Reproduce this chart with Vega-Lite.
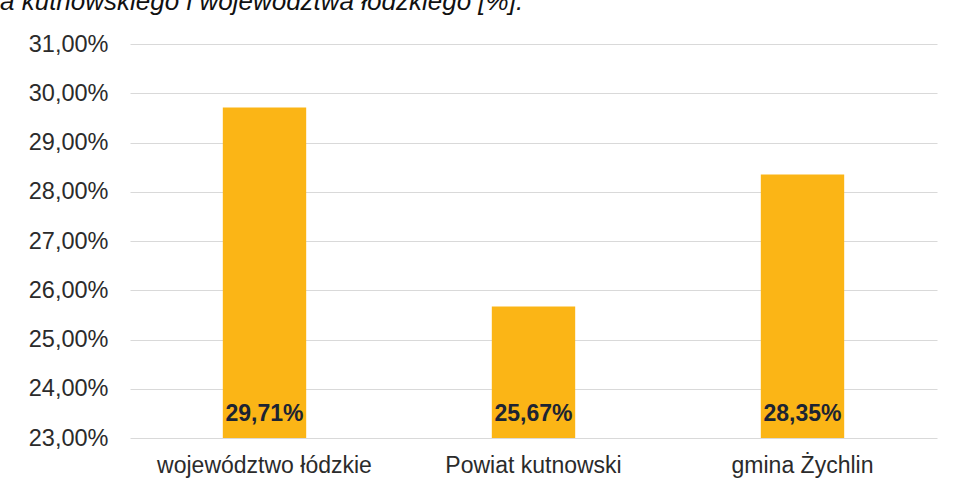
{
  "$schema": "https://vega.github.io/schema/vega-lite/v6.json",
  "width": 807,
  "height": 394,
  "autosize": "none",
  "padding": {"left": 130, "top": 44, "right": 16, "bottom": 50},
  "background": "white",
  "config": {
    "locale": {"number": {"decimal": ",", "thousands": " ", "grouping": [3], "currency": ["", " zł"]}},
    "view": {"stroke": null},
    "font": "Liberation Sans"
  },
  "title": {
    "text": "a kutnowskiego i województwa łódzkiego [%].",
    "anchor": "start",
    "frame": "group",
    "orient": "top",
    "baseline": "alphabetic",
    "offset": -4,
    "dx": -130,
    "font": "Liberation Sans",
    "fontSize": 26,
    "fontStyle": "italic",
    "fontWeight": "normal",
    "color": "#111111"
  },
  "data": {
    "values": [
      {"obszar": "województwo łódzkie", "wartosc": 0.2971},
      {"obszar": "Powiat kutnowski", "wartosc": 0.2567},
      {"obszar": "gmina Żychlin", "wartosc": 0.2835}
    ]
  },
  "encoding": {
    "x": {
      "field": "obszar",
      "type": "nominal",
      "sort": null,
      "scale": {"paddingInner": 0.69, "paddingOuter": 0.345},
      "axis": {
        "title": null,
        "labelAngle": 0,
        "domain": false,
        "ticks": false,
        "labelFontSize": 23,
        "labelColor": "#2b2b2b",
        "labelPadding": 16,
        "labelLimit": 0,
        "labelOverlap": false
      }
    }
  },
  "layer": [
    {
      "mark": {"type": "bar", "color": "#FBB516", "clip": true},
      "encoding": {
        "y": {
          "field": "wartosc",
          "type": "quantitative",
          "scale": {"domain": [0.23, 0.31], "zero": false, "nice": false},
          "axis": {
            "title": null,
            "format": ".2%",
            "values": [0.23, 0.24, 0.25, 0.26, 0.27, 0.28, 0.29, 0.30, 0.31],
            "labelOverlap": false,
            "domain": false,
            "ticks": false,
            "labelFontSize": 23.5,
            "labelColor": "#2b2b2b",
            "labelPadding": 22,
            "gridColor": "#d9d9d9",
            "gridWidth": 1
          }
        },
        "y2": {"datum": 0.23}
      }
    },
    {
      "mark": {
        "type": "text",
        "baseline": "alphabetic",
        "dy": -17,
        "fontSize": 23,
        "fontWeight": "bold",
        "color": "#1c2433"
      },
      "encoding": {
        "y": {"datum": 0.23},
        "text": {"field": "wartosc", "type": "quantitative", "format": ".2%"}
      }
    }
  ]
}
